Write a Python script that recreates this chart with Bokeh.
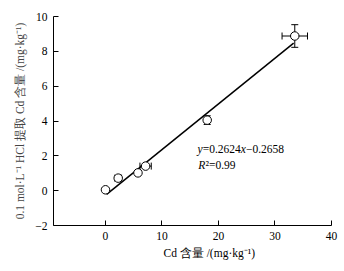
from bokeh.plotting import figure
from bokeh.models import Range1d, FixedTicker, ColumnDataSource, Whisker, TeeHead, Label, Title
from bokeh.embed import file_html
from bokeh.resources import INLINE

# data
cd_total = [0.0, 2.25, 5.75, 7.1, 18.0, 33.5]
cd_hcl = [0.05, 0.72, 1.02, 1.41, 4.05, 8.88]
x_err = [0.0, 0.6, 0.0, 1.0, 0.0, 2.25]
y_err = [0.0, 0.0, 0.0, 0.0, 0.25, 0.65]
slope = 0.2624
intercept = -0.2658
fit_x = [0.2, 33.3]
x_ticks = [0, 10, 20, 30, 40]
y_ticks = [-2, 0, 2, 4, 6, 8, 10]

SERIF = "Liberation Serif"
PX = 1 / 5.64  # data units of x per pixel

p = figure(width=344, height=271, output_backend="svg", toolbar_location=None,
           x_range=Range1d(-9.2, 40), y_range=Range1d(-2, 10),
           min_border_left=53, min_border_right=13, min_border_top=16, min_border_bottom=46)
p.outline_line_color = None
p.grid.visible = False
p.background_fill_color = "white"
p.border_fill_color = "white"

for ax in (p.xaxis[0], p.yaxis[0]):
    ax.major_tick_in = 5
    ax.major_tick_out = 0
    ax.minor_tick_line_color = None
    ax.major_label_text_font = SERIF
    ax.major_label_text_font_size = "11.5px"
    ax.major_label_text_color = "black"
    ax.axis_line_color = "black"
    ax.major_tick_line_color = "black"
    ax.major_label_standoff = 6
p.xaxis[0].ticker = FixedTicker(ticks=x_ticks)
p.yaxis[0].ticker = FixedTicker(ticks=y_ticks)

p.yaxis[0].axis_label = "0.1 mol·L⁻¹ HCl 提取 Cd 含量 /(mg·kg⁻¹)"
p.yaxis[0].axis_label_text_font = SERIF
p.yaxis[0].axis_label_text_font_size = "11.5px"
p.yaxis[0].axis_label_text_font_style = "normal"
p.yaxis[0].axis_label_standoff = 6

# x axis label as a left-aligned title below the axis
xt = Title(text="Cd 含量 /(mg·kg⁻¹)", align="left", offset=110,
           text_font=SERIF, text_font_size="11.5px", text_font_style="normal",
           text_color="black", standoff=4)
p.add_layout(xt, "below")

# fit line
fit_y = [slope * v + intercept for v in fit_x]
p.line(fit_x, fit_y, line_color="black", line_width=1.5)

# error bars
src = ColumnDataSource(dict(
    x=cd_total, y=cd_hcl,
    xl=[a - e for a, e in zip(cd_total, x_err)], xu=[a + e for a, e in zip(cd_total, x_err)],
    yl=[a - e for a, e in zip(cd_hcl, y_err)], yu=[a + e for a, e in zip(cd_hcl, y_err)],
))
def head():
    return TeeHead(size=7, line_color="black", line_width=1)
wy = Whisker(source=src, base="x", lower="yl", upper="yu", dimension="height",
             line_color="black", line_width=1, upper_head=head(), lower_head=head())
wx = Whisker(source=src, base="y", lower="xl", upper="xu", dimension="width",
             line_color="black", line_width=1, upper_head=head(), lower_head=head())
p.add_layout(wy)
p.add_layout(wx)

p.scatter("x", "y", source=src, marker="circle", size=8.5, fill_color="white",
          line_color="black", line_width=1)

# equation labels: pieces with italic variables
def piece(x, y, text, italic):
    p.add_layout(Label(x=x, y=y, text=text, text_font=SERIF, text_font_size="11.5px",
                       text_font_style="italic" if italic else "normal",
                       text_baseline="middle", text_color="black"))

x0 = 16.3
y1 = 2.4
y2 = 1.45
pieces1 = [("y", True, 5.1), ("=0.2624", False, 38.1), ("x", True, 5.1), ("−0.2658", False, 38.1)]
cx = x0
for t, it, w in pieces1:
    piece(cx, y1, t, it)
    cx += w * PX
pieces2 = [("R", True, 7.4), ("²=0.99", False, 30)]
cx = x0 + 0.1
for t, it, w in pieces2:
    piece(cx, y2, t, it)
    cx += w * PX

open("out.html", "w").write(file_html(p, INLINE))
